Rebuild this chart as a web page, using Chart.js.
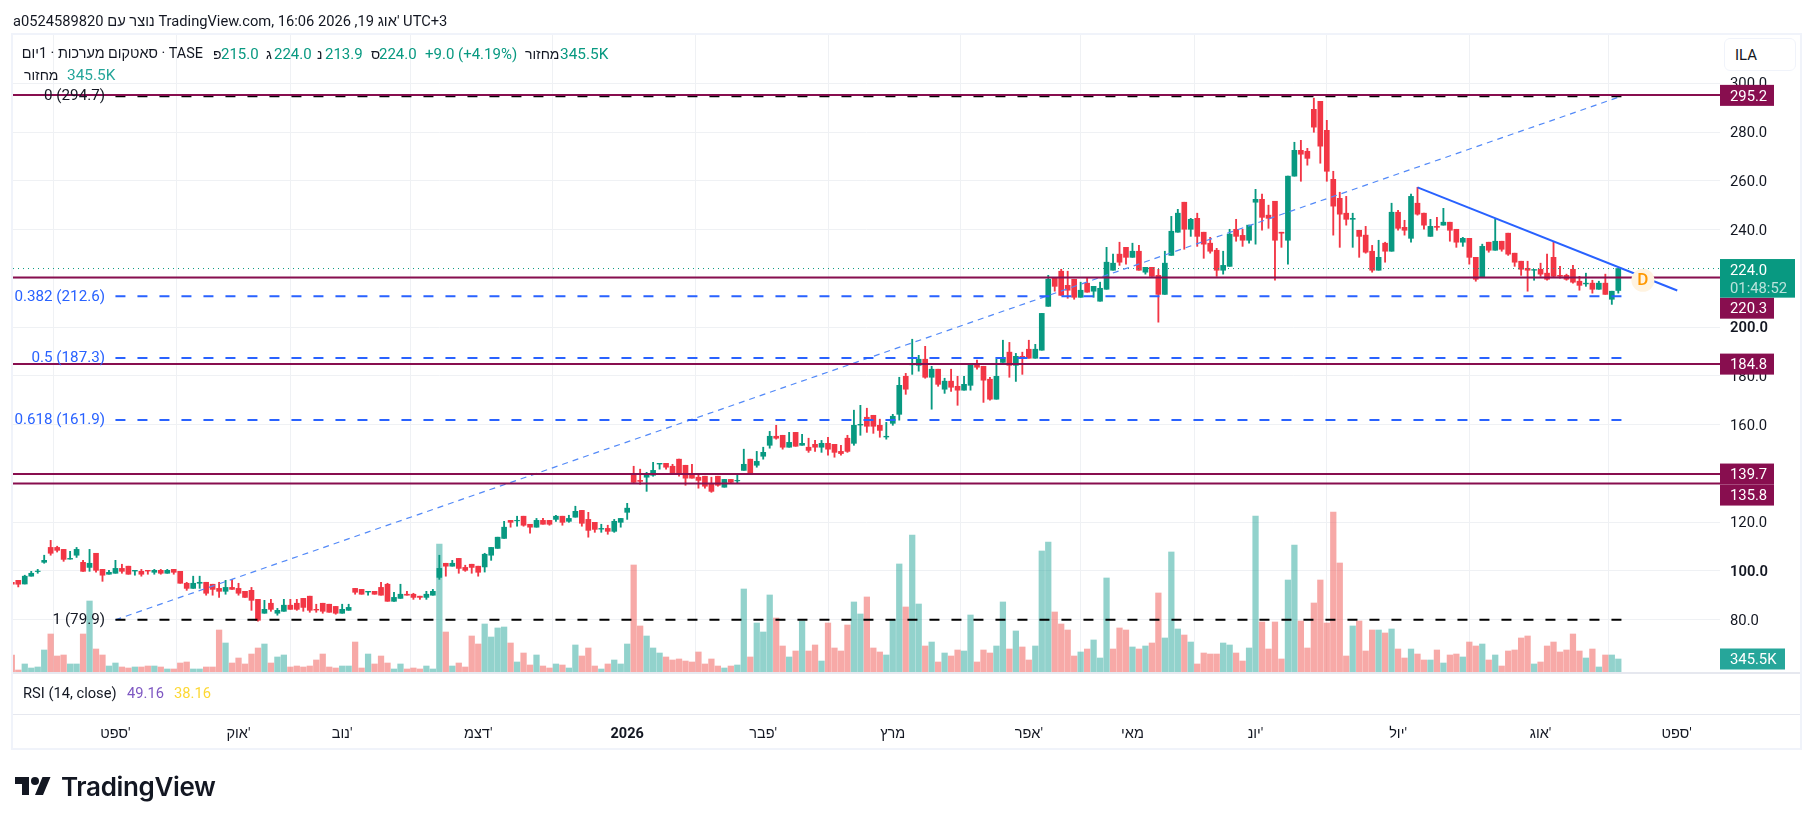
<!DOCTYPE html>
<html lang="he">
<head>
<meta charset="utf-8">
<title>TASE chart</title>
<script src="https://cdn.jsdelivr.net/npm/chart.js@4"></script>
<style>
html,body{margin:0;padding:0;background:#fff;width:1814px;height:825px;overflow:hidden}
body{font-family:Roboto,"Liberation Sans","DejaVu Sans",sans-serif;color:#131722;font-size:14px}
.t{position:absolute;white-space:nowrap;line-height:20px;height:20px}
.g{color:#089981;font-size:15px}
.frame{position:absolute;left:11px;top:33px;width:1791px;height:717px;border:2px solid #f0f3fa;box-sizing:border-box}
.sep{position:absolute;background:#e6e8ef}
canvas{position:absolute;left:0;top:0}
</style>
</head>
<body>
<div class="frame"></div>
<div class="sep" style="left:13px;top:672px;width:1787px;height:2px"></div>
<div class="sep" style="left:13px;top:714px;width:1787px;height:1px"></div>
<canvas id="c" width="1814" height="825"></canvas>

<div class="t" style="left:13px;top:11px;font-size:14.7px">a0524589820 נוצר עם TradingView.com, 16:06 2026 ,19 אוג' UTC+3</div>

<div class="t" style="left:0;width:203px;top:44px;text-align:right;direction:rtl;font-size:14.4px">TASE · סאטקום מערכות · 1יום</div>
<div class="t" style="left:213px;top:44px">פ</div><div class="t g" style="left:221px;top:44px">215.0</div>
<div class="t" style="left:266px;top:44px">ג</div><div class="t g" style="left:274px;top:44px">224.0</div>
<div class="t" style="left:317px;top:44px">נ</div><div class="t g" style="left:325px;top:44px">213.9</div>
<div class="t" style="left:371px;top:44px">ס</div><div class="t g" style="left:379px;top:44px">224.0</div>
<div class="t g" style="left:425px;top:44px">+9.0 (+4.19%)</div>
<div class="t" style="left:525px;top:44px">מחזור</div><div class="t g" style="left:560px;top:44px;font-size:15.4px">345.5K</div>
<div class="t" style="left:24px;top:65px">מחזור</div><div class="t" style="left:67px;top:65px;color:#26a69a;font-size:15.4px">345.5K</div>

<div class="t" style="left:23px;top:683px;font-size:14.7px">RSI (14, close)</div>
<div class="t" style="left:127px;top:683px;color:#7e57c2;font-size:14.7px">49.16</div>
<div class="t" style="left:174px;top:683px;color:#fdd835;font-size:14.7px">38.16</div>

<div style="position:absolute;left:1724px;top:38px;width:72px;height:33px;border:1px solid #f0f3fa;border-radius:6px;box-sizing:border-box;background:#fff"></div>
<div class="t" style="left:1735px;top:45px;font-size:15px">ILA</div>

<svg style="position:absolute;left:15px;top:773px" width="36" height="28" viewBox="0 0 36 28"><path fill="#131722" d="M14 22H7V11H0V4h14v18zM28 22h-8l7.5-18h8L28 22z"/><circle fill="#131722" cx="20" cy="8" r="4"/></svg>
<div class="t" style="left:61px;top:772px;font-family:Inter,Roboto,sans-serif;font-size:26px;font-weight:600;line-height:30px;height:30px;color:#131722;letter-spacing:-.35px">TradingView</div>

<script>
// ---------- candles (one entry per trading day) ----------
const opens = [95.3,
96.1,94.6,97.8,99.7,103.5,109.6,109.6,108.8,104.8,106.4,
103.5,101.4,107.2,100.6,98.6,99.0,101.0,101.9,99.9,99.8,
100.2,99.4,100.2,99.0,100.6,99.8,94.9,92.8,94.9,95.3,
94.5,92.8,91.6,93.2,92.8,91.6,92.0,88.3,82.6,86.7,
82.6,83.4,85.9,86.7,88.7,89.6,84.2,86.7,86.3,85.4,
82.6,83.8,92.8,92.4,91.3,91.6,93.2,94.5,87.5,88.7,
90.4,90.4,89.6,89.1,90.0,97.3,103.1,101.9,105.1,101.4,
102.7,101.9,101.6,106.4,109.2,113.3,120.7,120.5,122.4,119.1,
117.9,120.7,120.7,121.1,122.4,120.3,122.0,124.8,121.1,119.9,
117.1,117.4,116.2,119.9,124.0,139.6,137.1,138.4,139.2,143.8,
144.1,142.9,145.8,143.3,139.2,138.4,138.8,135.9,138.8,134.3,
137.5,136.9,141.2,145.8,143.3,147.0,151.5,155.2,155.6,150.7,
156.8,151.5,150.7,151.9,150.7,152.3,151.9,149.0,154.4,152.3,
159.8,163.0,163.8,159.7,154.9,160.5,164.2,179.8,184.5,184.3,
186.8,179.4,182.7,174.5,177.8,175.7,174.1,176.1,185.1,183.9,
178.6,170.4,185.5,189.7,184.3,188.0,190.9,187.2,190.5,208.5,
220.4,222.9,217.1,219.6,212.2,218.0,214.7,210.6,215.5,223.3,
229.9,232.7,228.6,231.1,222.5,224.5,221.2,213.4,229.4,238.9,
251.2,240.1,244.6,238.9,234.4,231.5,223.3,224.9,240.1,237.6,
235.6,251.2,252.4,245.9,251.6,238.9,235.6,261.9,272.5,272.1,
289.3,292.6,280.7,260.6,252.8,246.7,244.2,239.7,237.7,231.1,
223.3,234.4,231.1,247.1,240.9,236.4,250.8,246.7,237.2,241.3,
241.8,243.0,240.1,234.8,236.4,228.6,220.4,234.8,231.5,235.2,
238.5,230.3,227.0,224.1,223.3,223.7,222.1,228.6,221.2,221.2,
223.7,218.8,217.7,218.0,215.5,218.0,211.4,215.0];

const closes = [94.5,
94.5,97.8,99.0,99.9,104.3,107.2,108.4,104.7,105.1,108.8,
99.8,103.1,100.2,98.2,99.4,101.0,99.8,98.6,100.2,98.6,
99.9,100.2,99.0,100.2,99.4,94.9,92.8,94.9,95.3,90.8,
92.4,91.6,93.2,92.4,90.8,89.1,87.9,79.7,84.2,84.2,
83.8,85.9,84.2,84.2,85.0,83.8,83.9,83.4,83.0,82.6,
84.2,85.0,91.2,90.4,91.6,90.4,90.0,87.5,89.1,90.4,
90.0,89.1,89.1,90.4,91.6,101.0,101.9,103.1,101.0,100.2,
101.4,99.4,106.8,109.6,113.8,117.9,119.9,120.7,118.7,117.9,
120.7,119.1,119.1,122.4,119.9,121.5,124.4,119.5,116.6,117.0,
117.4,116.2,120.3,121.5,125.7,136.3,136.7,139.6,141.2,144.1,
142.5,139.6,139.6,138.0,138.0,137.1,134.7,132.6,135.1,137.5,
136.3,137.1,143.7,139.6,144.9,148.6,155.2,154.4,150.7,152.7,
151.1,152.3,149.4,150.7,152.3,149.9,148.6,148.1,149.0,159.7,
160.1,159.3,159.3,157.6,155.2,163.4,176.1,174.5,184.9,186.8,
179.4,182.7,176.5,177.8,175.3,174.1,176.5,184.3,183.5,178.2,
170.4,179.8,187.5,184.3,188.0,187.2,187.2,190.9,205.6,219.6,
216.7,213.0,215.1,212.2,215.1,214.3,216.7,215.9,226.6,226.2,
226.6,228.6,231.1,223.3,224.5,220.8,213.4,226.2,239.3,246.7,
240.1,244.2,237.2,234.0,231.1,223.3,225.3,238.1,237.2,235.6,
241.8,252.4,245.0,244.6,235.6,238.5,261.9,272.5,270.9,269.2,
282.0,274.2,263.9,249.6,246.3,244.2,244.6,237.2,230.7,223.3,
228.6,231.1,247.1,240.5,239.7,253.6,246.3,241.8,241.3,240.9,
243.0,239.7,234.8,236.4,228.6,219.6,233.1,231.5,235.2,231.9,
229.9,226.6,223.7,223.3,223.6,221.7,219.6,220.8,220.8,219.6,
218.4,217.1,218.0,215.5,218.0,213.4,214.7,224.0];

const highs = [95.3,
96.1,98.2,99.8,100.6,106.4,112.5,110.1,108.8,108.0,109.6,
104.3,108.8,107.2,100.6,100.2,104.3,102.7,101.9,100.2,100.6,
100.2,100.6,100.6,100.6,100.6,99.8,95.3,97.8,97.8,95.3,
94.5,95.3,96.1,96.5,94.9,91.6,93.2,88.3,87.9,88.3,
84.6,88.3,88.3,88.3,88.7,89.6,86.3,86.7,86.3,85.4,
86.3,86.3,92.8,92.4,91.6,91.6,95.3,94.9,91.2,94.5,
91.6,90.8,89.6,91.6,92.4,106.4,103.1,104.3,105.1,102.3,
102.7,101.9,107.2,109.6,113.8,120.3,120.7,122.4,122.4,119.1,
121.5,121.5,120.7,122.8,122.4,122.8,126.5,124.8,124.0,119.9,
119.1,118.7,121.1,121.5,127.7,142.9,141.7,140.4,144.5,144.1,
144.1,143.7,145.8,143.3,143.7,139.2,138.8,138.4,138.8,137.5,
137.5,139.2,149.9,145.8,149.0,150.7,157.2,159.7,155.6,156.8,
156.8,156.0,154.4,153.5,153.5,154.8,151.9,151.5,155.6,165.9,
167.9,166.7,163.8,162.2,160.9,164.2,179.4,181.0,195.0,188.4,
192.1,183.9,182.7,179.0,182.7,179.8,179.8,184.3,186.4,183.9,
179.4,186.8,194.6,193.7,189.2,189.7,194.6,192.9,205.6,221.2,
220.4,223.7,222.9,219.6,218.4,220.4,216.7,218.4,232.7,229.9,
234.8,232.7,234.4,233.5,224.5,224.5,223.7,231.1,245.4,248.3,
251.2,244.6,246.7,238.9,236.8,232.3,231.1,240.1,244.2,240.1,
241.8,256.5,254.5,250.0,251.6,238.9,261.9,275.8,276.6,273.3,
293.9,292.6,284.8,263.9,255.3,253.6,246.7,239.7,241.3,233.5,
235.6,234.8,250.8,247.9,243.8,254.5,257.3,246.7,244.2,245.0,
248.7,243.0,240.1,236.8,236.4,228.6,234.0,234.8,244.2,235.2,
238.5,230.3,227.0,227.0,223.6,226.2,229.9,234.8,224.9,221.7,
225.3,220.8,222.1,219.2,218.8,221.7,214.7,224.0];

const lows = [94.5,
93.4,94.6,97.8,99.0,103.1,106.4,107.7,103.9,104.8,105.5,
99.8,99.8,99.4,95.7,98.6,99.0,99.0,98.6,98.2,97.8,
98.6,98.6,98.6,99.0,98.6,94.9,92.0,92.8,92.8,90.0,
90.0,89.1,90.4,92.4,90.0,89.1,83.8,79.3,82.6,83.4,
81.8,83.4,84.2,83.8,83.4,83.0,83.0,82.6,83.0,82.2,
82.6,83.8,90.4,90.4,90.0,90.4,90.0,87.5,87.5,88.7,
90.0,88.3,88.3,88.3,90.0,96.5,97.8,101.9,99.0,99.8,
99.0,97.8,99.5,104.3,109.2,113.3,117.9,118.3,118.3,115.4,
117.9,119.1,118.7,120.3,118.7,119.9,122.0,118.3,113.8,115.8,
115.8,115.0,115.8,117.9,121.1,135.9,135.5,132.6,138.8,141.7,
141.7,139.6,138.8,135.1,138.0,133.9,133.9,132.2,134.7,134.3,
135.9,135.9,141.2,139.6,142.5,145.8,150.3,154.0,149.9,150.7,
151.1,151.5,148.6,149.0,148.6,147.4,146.6,147.4,148.6,151.5,
155.6,156.8,156.4,154.8,154.0,159.7,161.8,172.4,180.6,181.9,
179.0,166.3,175.7,172.8,173.6,167.9,174.1,174.1,182.7,169.1,
170.0,170.4,185.5,179.4,177.7,180.6,187.2,187.2,190.5,208.5,
214.7,213.0,211.8,211.4,212.2,214.3,212.2,210.6,215.5,223.3,
225.3,225.8,228.6,223.3,221.7,220.8,202.0,213.4,229.4,238.9,
231.9,237.2,233.1,228.2,230.3,220.8,221.7,224.9,235.2,233.1,
234.4,234.0,239.7,240.5,219.2,232.7,225.8,261.9,259.8,266.4,
279.9,267.2,259.8,237.7,232.7,241.8,232.7,228.6,230.3,222.5,
223.3,226.6,231.1,239.7,237.7,234.8,245.9,240.1,237.2,239.7,
241.8,235.2,232.7,233.1,225.8,218.8,220.4,230.7,231.5,231.1,
229.4,224.9,221.2,214.7,219.2,220.8,219.2,220.4,220.0,219.2,
218.0,215.1,216.7,213.9,215.5,213.4,209.3,213.9];

// volume in thousands of shares
const volumes = [452,
53,213,106,133,585,1010,425,452,213,213,
1010,1887,611,452,159,239,133,106,133,133,
159,159,133,80,80,239,266,80,80,133,
133,1116,771,239,372,213,478,638,744,239,
399,452,133,159,133,159,319,478,133,106,
159,159,797,106,478,213,425,239,80,213,
80,106,80,159,80,3402,1063,159,239,133,
957,744,1276,930,1170,1196,771,266,505,186,
452,159,106,213,186,106,718,425,638,159,
80,213,319,213,744,2844,1223,957,638,505,
399,319,346,292,266,532,213,346,159,106,
159,186,2206,399,1302,1063,2047,1435,691,399,
558,1356,558,718,292,1302,638,558,1249,1861,
1542,1994,638,532,452,1382,2871,1728,3641,1807,
691,797,266,505,425,585,558,1515,266,585,
505,691,1861,611,1090,665,319,691,3216,3455,
1595,1276,1116,425,532,611,851,372,2499,611,
1170,1116,665,611,691,771,2100,904,3190,1143,
983,797,213,505,478,478,771,718,505,292,
638,4146,1329,611,1329,346,2445,3376,1356,638,
1834,2445,1302,4253,2897,425,1223,1356,558,1116,
1116,1037,1143,611,372,611,478,319,319,585,
239,452,478,399,797,691,744,319,452,159,
558,585,904,957,213,266,691,797,532,585,
1010,558,372,611,133,452,452,345.5];
const redVolumeOnUpDay = [170];

// ---------- axes ----------
const priceTicks = [80,100,120,140,160,180,200,220,240,260,280,300];
const strongPriceTicks = [100,200];
const monthTickIndex = [16,35,51,72,95,116,136,157,173,192,214,236,257];
const monthTickLabels = ["ספט'","אוק'","נוב'","דצמ'","2026","פבר'","מרץ","אפר'","מאי","יונ'","יול'","אוג'","ספט'"];

// ---------- drawings ----------
const resistanceLevels = [295.2,220.3,184.8,139.7,135.8];
const fibRatios = ["0","0.382","0.5","0.618","1"];
const fibValues = [294.7,212.6,187.3,161.9,79.9];
const fibStartIndex = 16;
const fibEndIndex = 248.5;
const fibDiagonalValues = [79.9,294.7];
const trendIndex = [217,257.1];
const trendValues = [257.3,215.0];
const lastPrice = 224.0;
const lastVolume = 345.5;
const dividendIndex = 251.8;
const dividendValue = 219.2;

const GREEN='#089981', RED='#F23645', MAROON='#880E4F', BLUE='#2962FF', GRID='#eff1f4';
const UI_FONT='Roboto,"Liberation Sans","DejaVu Sans",sans-serif';
const xMin=0.185, xMax=263.7;
const isUp=i=>closes[i]>=opens[i];
const idx=opens.map((_,i)=>i);

const lineDs=(pts,color,width,dash,order)=>({type:'line',data:pts,borderColor:color,borderWidth:width,borderDash:dash,
  pointRadius:0,fill:false,tension:0,xAxisID:'x',yAxisID:'y',order});

const datasets=[
  {type:'bar',label:'volume',yAxisID:'y2',xAxisID:'x',order:100,barThickness:5.6,grouped:false,borderWidth:0,
   data:idx.map(i=>({x:i,y:volumes[i]})),
   backgroundColor:idx.map(i=>(isUp(i)&&!redVolumeOnUpDay.includes(i))?'rgba(38,166,154,.5)':'rgba(239,83,80,.5)')},
  {type:'bar',label:'wick',yAxisID:'y',xAxisID:'x',order:50,barThickness:1.2,grouped:false,borderWidth:0,
   data:idx.map(i=>({x:i,y:[lows[i],highs[i]]})),
   backgroundColor:idx.map(i=>isUp(i)?GREEN:RED)},
  {type:'bar',label:'body',yAxisID:'y',xAxisID:'x',order:40,barThickness:5,grouped:false,borderWidth:0,
   data:idx.map(i=>({x:i,y:[opens[i],closes[i]]})),
   backgroundColor:idx.map(i=>isUp(i)?GREEN:RED)},
  lineDs([{x:xMin,y:lastPrice},{x:xMax,y:lastPrice}],GREEN,1,[1,4],30),
  lineDs([{x:fibStartIndex,y:fibDiagonalValues[0]},{x:fibEndIndex,y:fibDiagonalValues[1]}],'#5289f8',1.2,[6,5],20),
];
fibValues.forEach((v,k)=>{
  const black=(fibRatios[k]==='0'||fibRatios[k]==='1');
  datasets.push(lineDs([{x:fibStartIndex,y:v},{x:fibEndIndex,y:v}],black?'#000':BLUE,2,[10,12],19));
});
resistanceLevels.forEach(v=>datasets.push(lineDs([{x:xMin,y:v},{x:xMax,y:v}],MAROON,2,[],10)));
datasets.push(lineDs([{x:trendIndex[0],y:trendValues[0]},{x:trendIndex[1],y:trendValues[1]}],BLUE,2,[],5));
datasets.push({type:'line',data:[{x:dividendIndex,y:dividendValue}],showLine:false,pointRadius:11.5,
  pointBackgroundColor:'#fff3e0',pointBorderWidth:0,xAxisID:'x',yAxisID:'y',order:1});

// labels drawn on top: fib captions, price boxes and the marker letter
const labelsPlugin={id:'labels',afterDraw(chart){
  const c=chart.ctx,y=chart.scales.y,y2=chart.scales.y2,x=chart.scales.x,right=chart.chartArea.right;
  c.save();
  c.textBaseline='middle';
  c.font='15.2px '+UI_FONT;
  c.textAlign='right';
  fibValues.forEach((v,k)=>{
    const black=(fibRatios[k]==='0'||fibRatios[k]==='1');
    c.fillStyle=black?'#131722':BLUE;
    c.fillText(fibRatios[k]+' ('+v.toFixed(1)+')',105,y.getPixelForValue(v)+0.5);
  });
  c.textAlign='left';
  const box=(cy,h,w,bg,lines)=>{
    c.fillStyle=bg;c.fillRect(right,cy-h/2,w,h);
    lines.forEach(l=>{c.fillStyle=l.color||'#fff';c.font='14.8px '+UI_FONT;c.fillText(l.text,right+10,cy+l.dy);});
  };
  const nudges={295.2:0.4,220.3:30.6,184.8:0,139.7:0,135.8:11.5};
  resistanceLevels.forEach(v=>box(y.getPixelForValue(v)+nudges[v],21,54,MAROON,[{text:v.toFixed(1),dy:1.5}]));
  box(y.getPixelForValue(lastPrice)+9.8,38.6,75,GREEN,[{text:lastPrice.toFixed(1),dy:-7.5},{text:'01:48:52',dy:10.5,color:'rgba(255,255,255,.72)'}]);
  box(y2.getPixelForValue(lastVolume),21,65,'#26a69a',[{text:lastVolume+'K',dy:1.5}]);
  c.fillStyle='#ff9800';c.font='500 17px '+UI_FONT;c.textAlign='center';
  c.fillText('D',x.getPixelForValue(dividendIndex),y.getPixelForValue(dividendValue)+1);
  c.restore();
}};

new Chart(document.getElementById('c').getContext('2d'),{
  type:'bar',
  data:{datasets},
  options:{
    responsive:false,animation:false,devicePixelRatio:1,
    layout:{padding:{left:13,top:35,right:0,bottom:0}},
    plugins:{legend:{display:false},tooltip:{enabled:false},title:{display:false}},
    scales:{
      x:{type:'linear',min:xMin,max:xMax,offset:false,position:'bottom',
        afterFit:s=>{s.height=153;},
        afterBuildTicks:s=>{s.ticks=monthTickIndex.map(v=>({value:v}));},
        grid:{color:GRID,drawTicks:false},border:{display:false},
        ticks:{autoSkip:false,maxRotation:0,padding:54,color:'#131722',
          font:ctx=>({family:UI_FONT,size:14.5,weight:(ctx.tick&&ctx.tick.value===95)?'bold':'normal'}),
          callback:v=>{const k=monthTickIndex.indexOf(v);return k<0?'':monthTickLabels[k];}}},
      y:{type:'linear',position:'right',min:58.5,max:319.8,
        afterFit:s=>{s.width=94;},
        afterBuildTicks:s=>{s.ticks=priceTicks.map(v=>({value:v}));},
        grid:{color:GRID,drawTicks:false},border:{display:false},
        ticks:{padding:10,color:'#131722',autoSkip:false,labelOffset:1.5,
          font:ctx=>({family:UI_FONT,size:14.8,weight:(ctx.tick&&strongPriceTicks.includes(ctx.tick.value))?'600':'normal'}),
          callback:v=>v.toFixed(1)}},
      y2:{type:'linear',display:false,min:0,max:16930,position:'left',grid:{display:false}}
    }
  },
  plugins:[labelsPlugin]
});
</script>
</body>
</html>
